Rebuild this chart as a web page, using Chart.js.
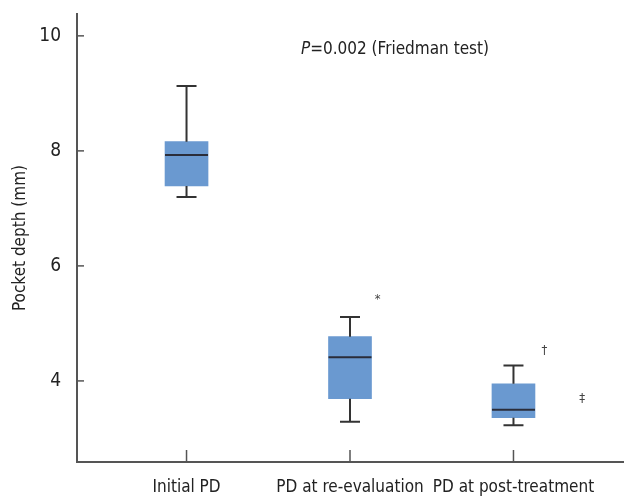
<!DOCTYPE html>
<html><head><meta charset="utf-8">
<script src="https://cdn.jsdelivr.net/npm/chart.js@4/dist/chart.umd.min.js"></script>
<style>html,body{margin:0;padding:0;background:#fff}#wrap{width:625px;height:497px}</style>
</head><body><div id="wrap"><canvas id="c"></canvas></div>
<script>
const categories = ['Initial PD', 'PD at re-evaluation', 'PD at post-treatment'];
const whiskerLow = [7.20, 3.29, 3.23];
const q1 = [7.39, 3.69, 3.36];
const median = [7.93, 4.41, 3.50];
const q3 = [8.16, 4.77, 3.95];
const whiskerHigh = [9.13, 5.11, 4.27];
const yTicks = [4, 6, 8, 10];
const markSymbols = ['*', '†', '‡'];
const markX = [1.17, 2.19, 2.42];
const markY = [5.41, 4.52, 3.69];
const noteX = 0.70, noteY = 9.76;

const FONT = '"Liberation Sans Narrow", "DejaVu Sans Condensed", Roboto, sans-serif';

const boxPlugin = {
  id: 'boxExtras',
  afterDatasetsDraw(chart) {
    const ctx = chart.ctx, xs = chart.scales.x, ys = chart.scales.y;
    ctx.save();
    ctx.strokeStyle = '#333';
    ctx.lineWidth = 2;
    for (let i = 0; i < categories.length; i++) {
      const cx = xs.getPixelForValue(i);
      const hi = ys.getPixelForValue(whiskerHigh[i]), lo = ys.getPixelForValue(whiskerLow[i]);
      const a = ys.getPixelForValue(q3[i]), b = ys.getPixelForValue(q1[i]);
      ctx.beginPath();
      ctx.moveTo(cx, hi); ctx.lineTo(cx, a);
      ctx.moveTo(cx, b); ctx.lineTo(cx, lo);
      ctx.moveTo(cx - 10, hi); ctx.lineTo(cx + 10, hi);
      ctx.moveTo(cx - 10, lo); ctx.lineTo(cx + 10, lo);
      ctx.stroke();
      const m = ys.getPixelForValue(median[i]);
      ctx.strokeStyle = '#2a2d3a';
      ctx.beginPath(); ctx.moveTo(cx - 21.5, m); ctx.lineTo(cx + 21.5, m); ctx.stroke();
      ctx.strokeStyle = '#333';
    }
    // inward axis ticks
    ctx.strokeStyle = '#555'; ctx.lineWidth = 1.5;
    const L = chart.chartArea.left, B = chart.chartArea.bottom;
    yTicks.forEach(v => { const y = ys.getPixelForValue(v); ctx.beginPath(); ctx.moveTo(L, y); ctx.lineTo(L + 7, y); ctx.stroke(); });
    categories.forEach((c, i) => { const x = xs.getPixelForValue(i); ctx.beginPath(); ctx.moveTo(x, B); ctx.lineTo(x, B - 12); ctx.stroke(); });
    // significance marks
    ctx.fillStyle = '#444';
    ctx.textAlign = 'center'; ctx.textBaseline = 'middle';
    ctx.font = '13px ' + FONT;
    markSymbols.forEach((s, i) => ctx.fillText(s, xs.getPixelForValue(markX[i]), ys.getPixelForValue(markY[i])));
    // note
    ctx.fillStyle = '#222';
    ctx.textAlign = 'left';
    let nx = xs.getPixelForValue(noteX); const ny = ys.getPixelForValue(noteY);
    ctx.font = 'italic 17px ' + FONT;
    ctx.fillText('P', nx, ny);
    nx += ctx.measureText('P').width;
    ctx.font = '17px ' + FONT;
    ctx.fillText('=0.002 (Friedman test)', nx, ny);
    ctx.restore();
  }
};

new Chart(document.getElementById('c'), {
  type: 'bar',
  data: {
    datasets: [{
      data: categories.map((c, i) => ({ x: i, y: [q1[i], q3[i]] })),
      backgroundColor: '#6a99d0',
      borderWidth: 0,
      barThickness: 43
    }]
  },
  options: {
    responsive: true, maintainAspectRatio: false, animation: false,
    layout: { padding: { top: 14, right: 2, left: 0, bottom: 0 } },
    plugins: { legend: { display: false }, tooltip: { enabled: false } },
    scales: {
      x: {
        type: 'linear', min: -0.67, max: 2.67, offset: false,
        afterBuildTicks: s => { s.ticks = categories.map((c, i) => ({ value: i })); },
        afterFit: s => { s.height = 35; s.paddingLeft = 0; s.paddingRight = 0; },
        ticks: { callback: (v) => categories[v], color: '#222', padding: 15, font: { family: FONT, size: 17 }, maxRotation: 0, autoSkip: false },
        grid: { display: false, drawTicks: false },
        border: { display: true, color: '#555', width: 2 }
      },
      y: {
        min: 2.59, max: 10.38,
        afterBuildTicks: s => { s.ticks = yTicks.map(v => ({ value: v })); },
        afterFit: s => { s.width = 77; s.paddingTop = 0; s.paddingBottom = 0; },
        ticks: { color: '#222', padding: 16, font: { family: FONT, size: 19 } },
        grid: { display: false, drawTicks: false },
        border: { display: true, color: '#555', width: 2 },
        title: { display: true, text: 'Pocket depth (mm)', color: '#222', font: { family: FONT, size: 17 }, padding: { top: 10, bottom: 0 } }
      }
    }
  },
  plugins: [boxPlugin]
});
</script></body></html>
